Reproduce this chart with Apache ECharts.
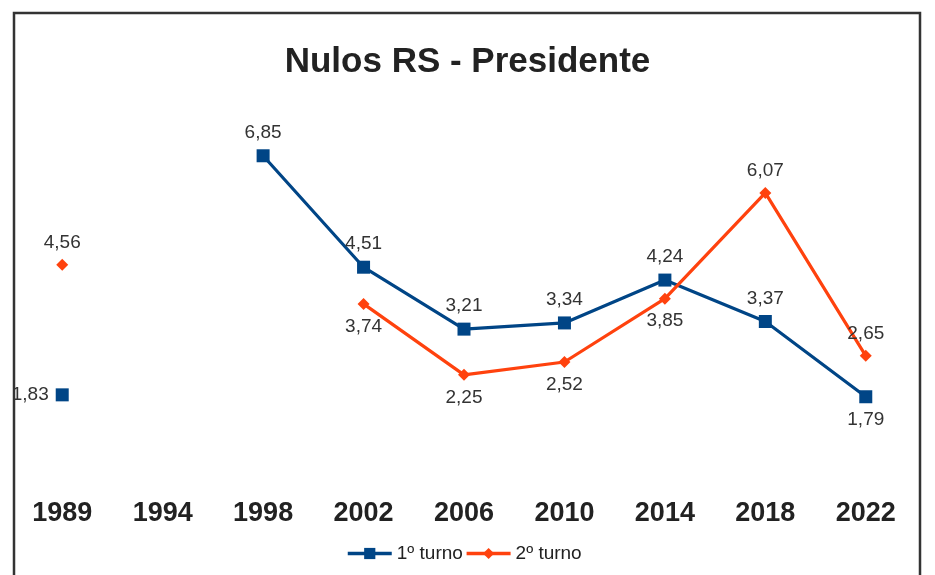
<!DOCTYPE html>
<html>
<head>
<meta charset="utf-8">
<script src="https://cdn.jsdelivr.net/npm/echarts@6/dist/echarts.min.js"></script>
<style>html,body{margin:0;padding:0;background:#fff;}#c{width:935px;height:575px;}</style>
</head>
<body>
<div id="c"></div>
<script>
const categories = ['1989','1994','1998','2002','2006','2010','2014','2018','2022'];
const turno1 = [1.83, null, 6.85, 4.51, 3.21, 3.34, 4.24, 3.37, 1.79];
const turno2 = [4.56, null, null, 3.74, 2.25, 2.52, 3.85, 6.07, 2.65];
const seriesNames = ['1º turno', '2º turno'];

const pos1 = ['left', 'top', 'top', 'top', 'top', 'top', 'top', 'top', 'bottom'];
const pos2 = ['top', 'top', 'top', 'bottom', 'bottom', 'bottom', 'bottom', 'top', 'top'];

function fmt(v){ return v.toFixed(2).replace('.', ','); }
function items(vals, pos){
  return vals.map((v,i)=> v === null ? null : {value: v, label: {position: pos[i]}});
}

const chart = echarts.init(document.getElementById('c'), null, {renderer:'canvas'});
chart.setOption({
  animation: false,
  backgroundColor: '#fff',
  title: {
    text: 'Nulos RS - Presidente',
    left: 'center', top: 40,
    textStyle: {fontFamily: 'Liberation Sans', fontWeight: 'bold', fontSize: 35, color: '#222'}
  },
  grid: {left: 12, right: 19, top: 101, bottom: 93},
  xAxis: {
    type: 'category', data: categories, boundaryGap: true,
    axisLine: {show: false}, axisTick: {show: false}, splitLine: {show: false},
    axisLabel: {margin: 18, fontFamily: 'Liberation Sans', fontWeight: 'bold', fontSize: 27, color: '#222'}
  },
  yAxis: {type: 'value', min: 0, max: 8, show: false, splitLine: {show: false}},
  legend: {
    bottom: 7, left: 341, itemWidth: 44, itemHeight: 14, itemGap: 2,
    lineStyle: {width: 3.5},
    textStyle: {fontFamily: 'Liberation Sans', fontSize: 19, color: '#222'},
    data: seriesNames
  },
  series: [
    {
      name: seriesNames[0], type: 'line', data: items(turno1, pos1),
      connectNulls: false, symbol: 'rect', symbolSize: 13,
      lineStyle: {color: '#004586', width: 3.2}, itemStyle: {color: '#004586'},
      label: {show: true, distance: 7, formatter: p => fmt(p.value),
        fontFamily: 'Liberation Sans', fontSize: 19, color: '#333'}
    },
    {
      name: seriesNames[1], type: 'line', data: items(turno2, pos2),
      connectNulls: false, symbol: 'diamond', symbolSize: 12,
      lineStyle: {color: '#ff420e', width: 3.2}, itemStyle: {color: '#ff420e'},
      label: {show: true, distance: 7, formatter: p => fmt(p.value),
        fontFamily: 'Liberation Sans', fontSize: 19, color: '#333'}
    }
  ],
  graphic: [{
    type: 'rect', z: 100, silent: true,
    shape: {x: 14, y: 13, width: 906, height: 620},
    style: {fill: null, stroke: '#333', lineWidth: 2.5}
  }]
});
</script>
</body>
</html>
